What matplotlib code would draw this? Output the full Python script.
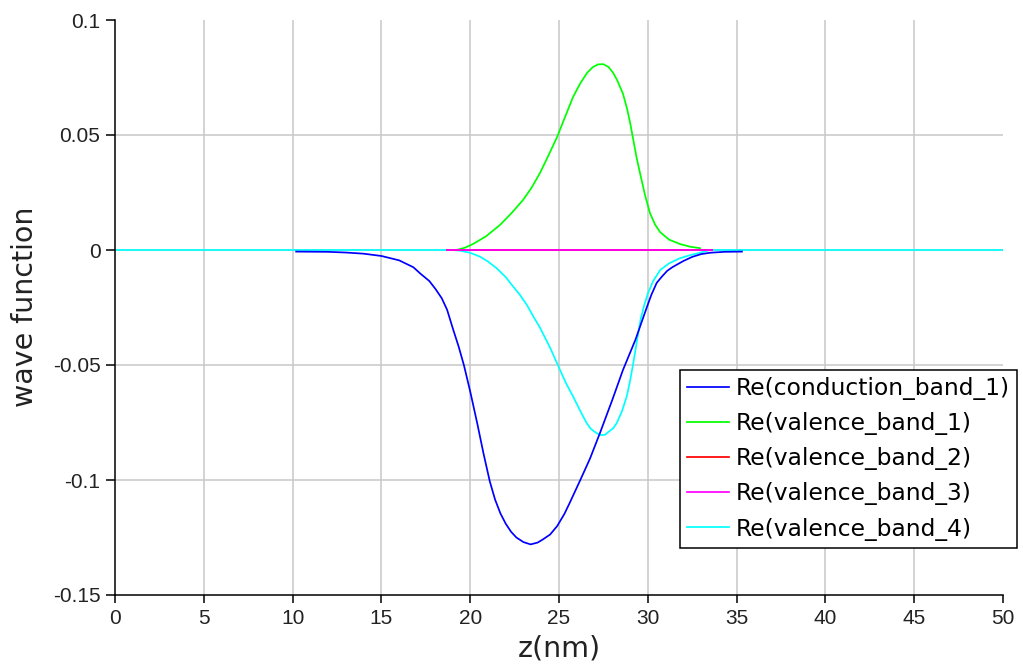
import matplotlib
matplotlib.use("Agg")
import matplotlib.pyplot as plt
from matplotlib.ticker import FixedLocator, FixedFormatter

# ---- data ----
cb1_z = [10.2, 12.0, 13.0, 14.0, 15.0, 16.0, 16.8, 17.2, 17.7, 18.05, 18.4, 18.7, 19.05,
         19.35, 19.65, 20.0, 20.4, 20.75, 21.1, 21.4, 21.7, 22.0, 22.3, 22.6, 23.0, 23.4,
         23.8, 24.1, 24.5, 24.9, 25.3, 25.6, 26.2, 26.75, 27.3, 28.0, 28.6, 29.3, 29.95,
         30.2, 30.5, 30.8, 31.1, 31.4, 32.0, 32.5, 33.0, 33.5, 34.3, 35.3]
cb1_v = [-0.0007, -0.0008, -0.0011, -0.0016, -0.0026, -0.0045, -0.0075, -0.0103, -0.0135,
         -0.017, -0.021, -0.026, -0.0348, -0.042, -0.0502, -0.0615, -0.0755, -0.0885,
         -0.1005, -0.1085, -0.1145, -0.119, -0.1225, -0.125, -0.127, -0.128, -0.1272,
         -0.1258, -0.1237, -0.1200, -0.1148, -0.110, -0.100, -0.0906, -0.0797, -0.0652,
         -0.0522, -0.0391, -0.0248, -0.0195, -0.0143, -0.0115, -0.009, -0.0074, -0.0048,
         -0.003, -0.0018, -0.0012, -0.0008, -0.0007]

vb1_z = [19.24, 19.7, 20.16, 20.9, 21.68, 22.3, 22.97, 23.45, 23.93, 24.4, 24.89, 25.35,
         25.79, 26.2, 26.58, 26.9, 27.2, 27.5, 27.8, 28.05, 28.27, 28.6, 28.83, 29.0, 29.17,
         29.36, 29.56, 29.84, 30.12, 30.4, 30.69, 31.2, 31.81, 32.4, 32.94]
vb1_v = [0.0, 0.001, 0.0026, 0.006, 0.0109, 0.0158, 0.0217, 0.027, 0.0335, 0.041, 0.0491,
         0.058, 0.0665, 0.0725, 0.077, 0.0795, 0.0807, 0.0808, 0.0795, 0.077, 0.0739, 0.068,
         0.0615, 0.0555, 0.0485, 0.0405, 0.0335, 0.024, 0.0161, 0.0112, 0.0078, 0.0045,
         0.0026, 0.0014, 0.0008]

vb2_z = [18.7, 33.6]
vb2_v = [0.0, 0.0]

vb3_z = [18.7, 33.6]
vb3_v = [0.0, 0.0]

vb4_z = [0, 19.0, 19.43, 20.0, 20.55, 21.0, 21.5, 22.0, 22.43, 22.8, 23.2, 23.6, 23.93,
         24.5, 25.06, 25.4, 25.8, 26.2, 26.56, 26.8, 27.0, 27.2, 27.4, 27.6, 27.8, 28.05,
         28.25, 28.55, 28.81, 29.0, 29.18, 29.4, 29.6, 29.8, 30.0, 30.3, 30.7, 31.2, 31.8,
         32.4, 32.94, 33.5, 50]
vb4_v = [0, 0, -0.0003, -0.0012, -0.0029, -0.005, -0.008, -0.0118, -0.016, -0.0195,
         -0.024, -0.0295, -0.0338, -0.0425, -0.0522, -0.058, -0.0638, -0.070, -0.0753,
         -0.0778, -0.079, -0.080, -0.0805, -0.0803, -0.079, -0.0775, -0.0753, -0.070,
         -0.0638, -0.057, -0.0493, -0.039, -0.030, -0.024, -0.019, -0.0135, -0.0087,
         -0.0058, -0.0036, -0.0022, -0.0012, 0, 0]

labels = ["Re(conduction_band_1)", "Re(valence_band_1)", "Re(valence_band_2)",
          "Re(valence_band_3)", "Re(valence_band_4)"]

x_ticks = [0, 5, 10, 15, 20, 25, 30, 35, 40, 45, 50]
x_tick_labels = ["0", "5", "10", "15", "20", "25", "30", "35", "40", "45", "50"]
y_ticks = [-0.15, -0.1, -0.05, 0, 0.05, 0.1]
y_tick_labels = ["-0.15", "-0.1", "-0.05", "0", "0.05", "0.1"]

# ---- figure ----
W, H = 1023, 666
fig = plt.figure(figsize=(W / 100, H / 100), dpi=100)
ax = fig.add_axes([115 / W, 1 - 595 / H, 888 / W, 575 / H])

lw = 1.25
ax.plot(cb1_z, cb1_v, color="#0000ff", lw=lw, label=labels[0], zorder=3)
ax.plot(vb1_z, vb1_v, color="#00ff00", lw=lw, label=labels[1], zorder=3)
ax.plot(vb2_z, vb2_v, color="#ff0000", lw=lw, label=labels[2], zorder=3)
ax.plot(vb3_z, vb3_v, color="#ff00ff", lw=lw, label=labels[3], zorder=4)
ax.plot(vb4_z, vb4_v, color="#00ffff", lw=lw, label=labels[4], zorder=2)

ax.set_xlim(0, 50)
ax.set_ylim(-0.15, 0.1)

ax.xaxis.set_major_locator(FixedLocator(x_ticks))
ax.xaxis.set_major_formatter(FixedFormatter(x_tick_labels))
ax.yaxis.set_major_locator(FixedLocator(y_ticks))
ax.yaxis.set_major_formatter(FixedFormatter(y_tick_labels))

ax.grid(True, color="#c8c8c8", lw=1.1, zorder=0)
ax.set_axisbelow(True)
for gl, t in zip(ax.get_xgridlines(), x_ticks):
    if t in (0, 50):
        gl.set_visible(False)
for gl, t in zip(ax.get_ygridlines(), y_ticks):
    if t in (-0.15, 0.1):
        gl.set_visible(False)

for s in ("top", "right"):
    ax.spines[s].set_visible(False)
for s in ("left", "bottom"):
    ax.spines[s].set_color("black")
    ax.spines[s].set_linewidth(1.1)

ax.tick_params(axis="x", direction="out", length=6, width=1.1, pad=4, colors="black",
               labelcolor="#222222")
ax.tick_params(axis="y", direction="out", length=6.5, width=1.1, pad=4, colors="black",
               labelcolor="#222222")
for lab in ax.get_xticklabels() + ax.get_yticklabels():
    lab.set_fontfamily(["Liberation Sans", "DejaVu Sans"])
    lab.set_fontsize(15)

fig.text(559 / W, 1 - 649 / H, "z(nm)", ha="center", va="center",
         fontsize=20.5, family="DejaVu Sans", color="#222222")
fig.text(25 / W, 1 - 307 / H, "wave function", ha="center", va="center", rotation=90,
         fontsize=20.5, family="DejaVu Sans", color="#222222")

leg = ax.legend(loc="upper left", bbox_to_anchor=(680 / W, 1 - 370 / H),
                bbox_transform=fig.transFigure, borderaxespad=0,
                prop=dict(family="DejaVu Sans", size=16.8),
                fancybox=False, framealpha=1, edgecolor="black",
                handlelength=1.8, handletextpad=0.28, labelspacing=0.52,
                borderpad=0.3)
leg.get_frame().set_linewidth(1.1)
leg.set_zorder(10)

fig.savefig("out.png", dpi=100)
